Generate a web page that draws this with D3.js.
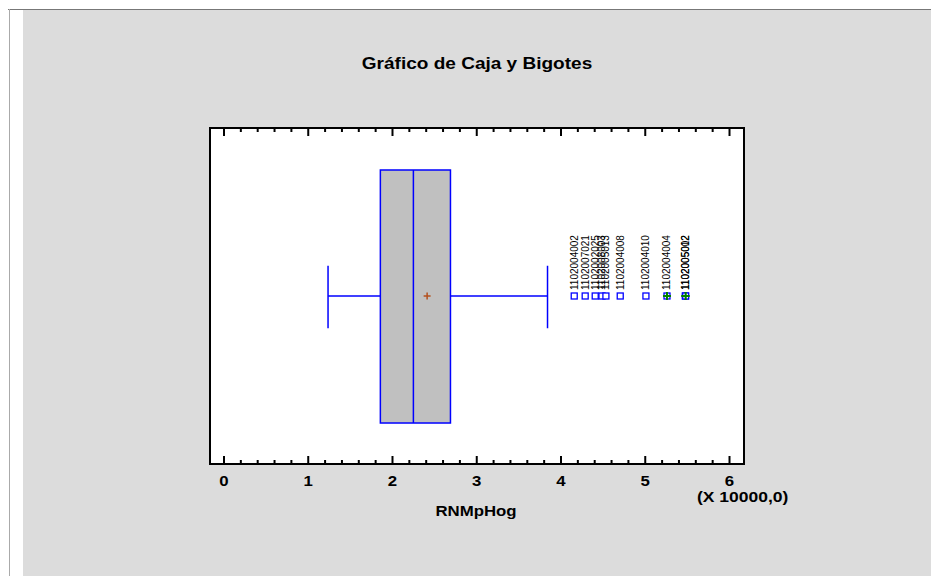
<!DOCTYPE html>
<html>
<head>
<meta charset="utf-8">
<script src="https://cdn.jsdelivr.net/npm/d3@7"></script>
<style>
  body { margin: 0; background: #fff; }
  svg text { font-family: "Liberation Sans", Arial, sans-serif; font-weight: bold; }
</style>
</head>
<body>
<div id="chart"></div>
<script>
// box plot values (units of 10000)
var whiskerEnds = [1.235, 3.84];
var quartiles = [1.856, 2.248, 2.688];
var meanValue = 2.411;
var outlierValues = [4.157, 4.287, 4.406, 4.486, 4.533, 4.703, 5.008, 5.258, 5.475, 5.48];
var outlierLabels = ["1102004002", "1102007021", "1102002025", "1102008003", "1102005013",
                     "1102004008", "1102004010", "1102004004", "1102005012", "1102005002"];
var farOutlier = [false, false, false, false, false, false, false, true, true, true];
var xTicks = [0, 1, 2, 3, 4, 5, 6];

var width = 931, height = 576;
var svg = d3.select("#chart").append("svg")
    .attr("width", width)
    .attr("height", height);

// panel background
svg.append("rect").attr("x", 9).attr("y", 9).attr("width", width - 9).attr("height", height - 9)
    .style("fill", "#fff");
svg.append("rect").attr("x", 23).attr("y", 10).attr("width", width - 23).attr("height", height - 10)
    .style("fill", "#dcdcdc");
svg.append("line").attr("x1", 8).attr("x2", width).attr("y1", 9.5).attr("y2", 9.5)
    .style("stroke", "#777").style("stroke-width", 1);
svg.append("line").attr("x1", 9.5).attr("x2", 9.5).attr("y1", 9).attr("y2", height)
    .style("stroke", "#aaa").style("stroke-width", 1);

var margin = {left: 210, top: 128, right: 744, bottom: 464};
var x = d3.scaleLinear().domain([-0.166, 6.172]).range([margin.left, margin.right]);
var y = d3.scaleLinear().domain([0, 1]).range([margin.top, margin.bottom]);

// stretched text, the original renders type wider than tall
function label(px, py, size, sx, anchor, str) {
    return svg.append("text")
        .attr("transform", "translate(" + px + "," + py + ") scale(" + sx + ",1)")
        .attr("text-anchor", anchor)
        .style("font-size", size + "px")
        .text(str);
}

label(477, 69, 17, 1.12, "middle", "Gráfico de Caja y Bigotes");

svg.append("rect")
    .attr("x", margin.left).attr("y", margin.top)
    .attr("width", margin.right - margin.left).attr("height", margin.bottom - margin.top)
    .style("fill", "#fff").style("stroke", "#000").style("stroke-width", 2);

// ticks, bottom and top, inside
var minorTicks = d3.range(0, 6.01, 0.2);
var g = svg.append("g");
[margin.bottom, margin.top].forEach(function(edge) {
    var dir = edge == margin.bottom ? -1 : 1;
    g.selectAll(null).data(minorTicks).enter().append("line")
        .attr("x1", function(d) { return x(d); })
        .attr("x2", function(d) { return x(d); })
        .attr("y1", edge)
        .attr("y2", function(d) {
            var major = Math.abs(d - Math.round(d)) < 1e-6;
            return edge + dir * (major ? 8 : 4);
        })
        .style("stroke", "#000").style("stroke-width", 2);
});

xTicks.forEach(function(d) {
    label(x(d), 486, 14, 1.2, "middle", d);
});

label(476, 516, 14, 1.2, "middle", "RNMpHog");
label(697, 502, 14, 1.25, "start", "(X 10000,0)");

// whiskers
var yc = y(0.5);
var blue = "#0000ff";
svg.append("line").attr("x1", x(whiskerEnds[0])).attr("x2", x(quartiles[0]))
    .attr("y1", yc).attr("y2", yc).style("stroke", blue).style("stroke-width", 1.5);
svg.append("line").attr("x1", x(quartiles[2])).attr("x2", x(whiskerEnds[1]))
    .attr("y1", yc).attr("y2", yc).style("stroke", blue).style("stroke-width", 1.5);
svg.selectAll(".cap").data(whiskerEnds).enter().append("line")
    .attr("class", "cap")
    .attr("x1", function(d) { return x(d); })
    .attr("x2", function(d) { return x(d); })
    .attr("y1", y(0.41)).attr("y2", y(0.596))
    .style("stroke", blue).style("stroke-width", 1.5);

// box
svg.append("rect")
    .attr("x", x(quartiles[0])).attr("y", y(0.125))
    .attr("width", x(quartiles[2]) - x(quartiles[0]))
    .attr("height", y(0.878) - y(0.125))
    .style("fill", "#c0c0c0").style("stroke", blue).style("stroke-width", 1.5);
svg.append("line").attr("x1", x(quartiles[1])).attr("x2", x(quartiles[1]))
    .attr("y1", y(0.125)).attr("y2", y(0.878))
    .style("stroke", blue).style("stroke-width", 1.5);

// mean marker
var mx = x(meanValue);
svg.append("path")
    .attr("d", "M" + (mx - 3.5) + "," + yc + "H" + (mx + 3.5) + "M" + mx + "," + (yc - 3.5) + "V" + (yc + 3.5))
    .style("stroke", "#b4501e").style("stroke-width", 1.5);

// outliers
var pts = svg.selectAll(".outlier").data(outlierValues).enter().append("g")
    .attr("class", "outlier")
    .attr("transform", function(d) { return "translate(" + x(d) + "," + yc + ")"; });
pts.append("rect")
    .attr("x", -3).attr("y", -3).attr("width", 6).attr("height", 6)
    .style("fill", "#fff").style("stroke", blue).style("stroke-width", 1.3);
pts.filter(function(d, i) { return farOutlier[i]; }).append("path")
    .attr("d", "M-4,0H4M0,-4V4")
    .style("stroke", "#008000").style("stroke-width", 2);
pts.append("text")
    .attr("transform", "translate(3.5,-6) rotate(-90)")
    .style("font-size", "10px").style("font-weight", "normal")
    .text(function(d, i) { return outlierLabels[i]; });
</script>
</body>
</html>
